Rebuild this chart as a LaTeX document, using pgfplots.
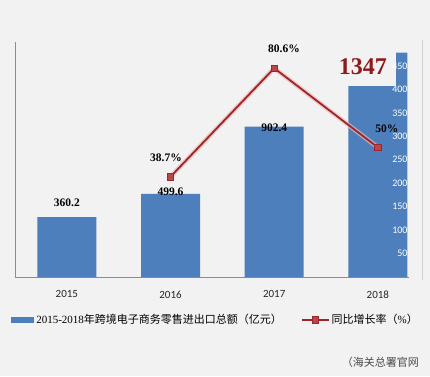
\documentclass[border=0pt]{standalone}
\usepackage{pgfplots}
\pgfplotsset{compat=1.18}
\usepackage{fontspec}
\setmainfont{Liberation Serif}
\newfontfamily\cjk{Noto Sans CJK SC}
\newfontfamily\calfont{Carlito}
\definecolor{bg}{HTML}{F2F2F2}
\definecolor{barblue}{HTML}{4C7FBC}
\definecolor{dred}{HTML}{9E2529}
\definecolor{mred}{HTML}{B8474B}
\definecolor{glow}{HTML}{EDB8B8}
\definecolor{bigred}{HTML}{8E1B1B}
\begin{document}
\begin{tikzpicture}[x=1pt,y=1pt]
\fill[bg] (0,0) rectangle (430,376);
% bars
\begin{axis}[
  at={(15pt,99pt)}, anchor=south west, scale only axis, width=395pt, height=235pt,
  xmin=-0.5, xmax=3.31, ymin=0, ymax=1411,
  axis x line=bottom, axis y line=left,
  axis line style={draw=black!45, -},
  xtick={0,1,2,3}, xticklabels={\mbox{2015},\mbox{2016},\mbox{2017},\mbox{2018}},
  xtick style={draw=none},
  xticklabel style={font=\calfont\fontsize{11}{13}\selectfont, text=black!85, yshift=-8pt},
  ytick=\empty,
  clip=false,
  legend columns=2,
  legend style={at={(axis description cs:-0.01,-0.183)}, anchor=west, draw=none, fill=none,
    font=\fontsize{11}{13}\selectfont, inner sep=0pt,
    /tikz/every even column/.append style={column sep=17pt}},
]
\addplot[ybar, bar width=59pt, fill=barblue, draw=none,
  legend image code/.code={\fill[barblue] (0pt,-3pt) rectangle (23pt,3pt);}]
  coordinates {(0,360.2) (1,499.6) (2,902.4) (3,1347)};
\addlegendentry{2015-2018{\cjk 年跨境电子商务零售进出口总额（亿元）}}
\addlegendimage{legend image code/.code={\draw[dred, line width=1.8pt, mark=square*, mark size=3.2pt,
  mark options={fill=mred, draw=dred, line width=0.8pt}, mark repeat=2, mark phase=2] plot coordinates {(0pt,0pt) (13.5pt,0pt) (27pt,0pt)};}}
\addlegendentry{{\cjk 同比增长率（}\%{\cjk ）}}
\addplot[draw=none, nodes near coords, point meta=explicit symbolic,
  nodes near coords style={font=\bfseries\fontsize{11.5}{13}\selectfont, anchor=center, text=black}]
  coordinates {(0,444)[360.2] (1,511)[499.6] (2,895)[902.4]};
\fill[bg] (axis cs:2.634,1147) rectangle (axis cs:3.174,1430);
\end{axis}
% right strip labels
\begin{axis}[
  at={(15pt,99pt)}, anchor=south west, scale only axis, width=395pt, height=235pt,
  xmin=0, xmax=1, ymin=0, ymax=501,
  axis x line=none, axis y line*=right, y axis line style={draw=none},
  ytick={50,100,...,450}, ytick style={draw=none},
  /pgf/number format/assume math mode=true,
  yticklabel style={text=white, font=\calfont\fontsize{10}{12}\selectfont, anchor=east, xshift=1pt},
]
\addplot[draw=none] coordinates {(0,0) (1,1)};
\end{axis}
% growth line
\begin{axis}[
  at={(15pt,99pt)}, anchor=south west, scale only axis, width=395pt, height=235pt,
  xmin=-0.5, xmax=3.31, ymin=0, ymax=90.7,
  axis lines=none, clip=false,
]
\addplot[glow, line width=4.5pt, opacity=0.7] coordinates {(1,38.7) (2,80.6) (3,50)};
\addplot[dred, line width=1.8pt, mark=square*, mark size=3.2pt,
  mark options={fill=mred, draw=dred, line width=0.8pt}]
  coordinates {(1,38.7) (2,80.6) (3,50)};
\addplot[draw=none, nodes near coords, point meta=explicit symbolic,
  nodes near coords style={font=\bfseries\fontsize{11.5}{13}\selectfont, anchor=center, text=black}]
  coordinates {(0.956,45.9)[38.7\%] (2.094,88.0)[80.6\%] (3.087,57.1)[50\%]};
\addplot[draw=none, nodes near coords, point meta=explicit symbolic,
  nodes near coords style={font=\bfseries\fontsize{24}{26}\selectfont, anchor=center, text=bigred}]
  coordinates {(2.856,81.0)[1347]};
\end{axis}
\fill[bg] (408.5,96) rectangle (420,340);
\draw[black!18, line width=1pt] (422.5,96) -- (422.5,336);
\node[anchor=east, text=black!70, font=\cjk\fontsize{11}{13}\selectfont, inner sep=0pt] at (419,14) {（海关总署官网};
\end{tikzpicture}
\end{document}
